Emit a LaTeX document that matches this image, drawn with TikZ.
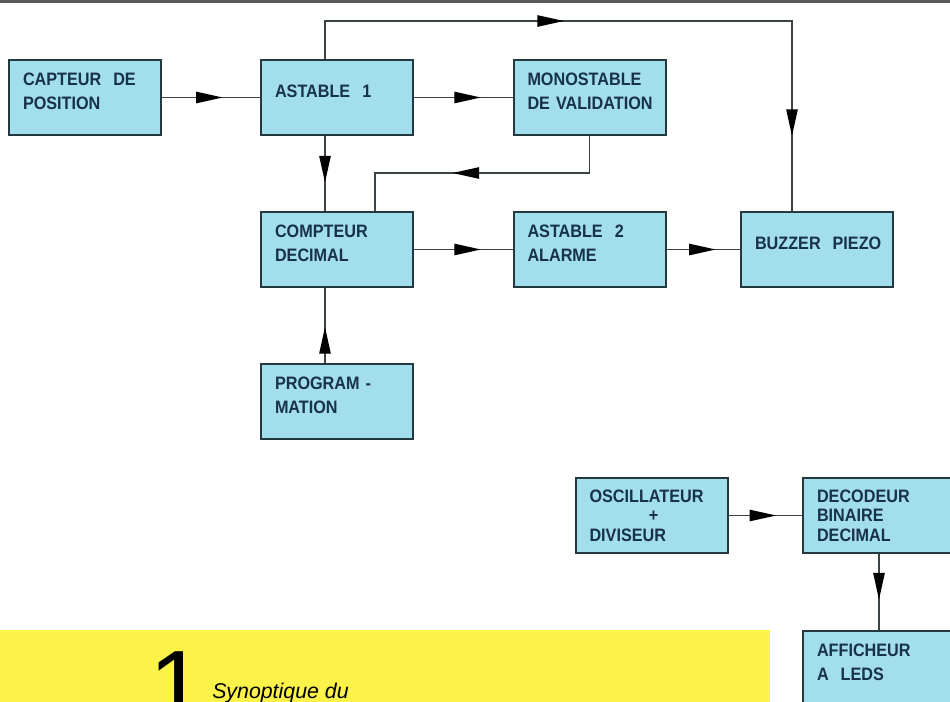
\documentclass[tikz,border=0pt]{standalone}
\usepackage{fontspec}
\setmainfont{Liberation Sans}
\newfontfamily\blokfont[FakeStretch=0.9]{Liberation Sans}
\usetikzlibrary{arrows.meta}
\usetikzlibrary{decorations.markings}
\hyphenpenalty=10000

\definecolor{blokfill}{HTML}{A3DEEC}
\definecolor{blokline}{HTML}{24393F}
\definecolor{bloktext}{HTML}{17324A}
\definecolor{wirecol}{HTML}{3A4446}
\definecolor{legend}{HTML}{FBF24A}
\definecolor{topband}{HTML}{5A5A5A}

\tikzset{
  blokbase/.style={draw=blokline, line width=1.5pt, fill=blokfill,
    minimum width=114pt, minimum height=56.25pt, inner xsep=10.5pt,
    text width=93pt, align=left, text=bloktext},
  blok/.style={blokbase,
    font=\blokfont\bfseries\fontsize{13.5}{18}\selectfont,
    execute at end node={\par\nointerlineskip\vskip 9pt\hbox{}}},
  blokthree/.style={blokbase,
    font=\blokfont\bfseries\fontsize{13.5}{14.6}\selectfont},
  wire/.style={draw=wirecol, line width=1.1pt},
  fl/.tip={Triangle[length=20pt, width=8.5pt]},
  flow/.style={wire, postaction={decorate, decoration={markings,
    mark=at position #1 with {\arrow[black]{fl}}}}},
  flow/.default=0.65,
}

\begin{document}
\begin{tikzpicture}[x=0.75pt, y=-0.75pt]
  \useasboundingbox (0,0) rectangle (950,702);
  \clip (0,0) rectangle (950,702);
  \fill[topband] (0,0) rectangle (950,3);

  % legende
  \fill[legend] (0,630) rectangle (770,702);
  \node[anchor=base west, inner sep=0, font=\fontsize{75}{75}\selectfont] (num) at (149,720) {1};
  \node[anchor=base west, inner sep=0, font=\itshape\fontsize{16}{19}\selectfont] (caption) at (212,698) {Synoptique du};

  % blocs
  \node[blok] (capteur) at (85,97.5) {CAPTEUR~~DE\\POSITION};
  \node[blok] (astable1) at (337,97.5) {ASTABLE~~1};
  \node[blok] (mono) at (589.5,97.5) {MONOSTABLE\\DE~VALIDATION};
  \node[blok] (compteur) at (337,249.5) {COMPTEUR\\DECIMAL};
  \node[blok] (astable2) at (589.5,249.5) {ASTABLE~~2\\ALARME};
  \node[blok] (buzzer) at (817,249.5) {BUZZER~~PIEZO};
  \node[blok] (prog) at (337,401.5) {PROGRAM -\\MATION};
  \node[blokthree] (osc) at (651.5,515.5) {OSCILLATEUR\\\hphantom{OSCILL}+\\DIVISEUR};
  \node[blokthree] (deco) at (879,515.5) {DECODEUR\\BINAIRE\\DECIMAL};
  \node[blok] (leds) at (879,668.5) {AFFICHEUR\\A~~LEDS};

  % liaisons
  \coordinate (up) at (325,21);
  \coordinate (over) at (792,21);
  \coordinate (back) at (375,173);
  \draw[flow=0.62] (capteur) -- (astable1);
  \draw[flow=0.68] (astable1) -- (mono);
  \draw[flow=0.68] (compteur) -- (astable2);
  \draw[flow=0.67] (astable2) -- (buzzer);
  \draw[flow] (osc) -- (deco);
  \draw[flow=0.62] (astable1.south -| up) -- (compteur.north -| up);
  \draw[flow=0.48] (prog.north -| up) -- (compteur.south -| up);
  \draw[flow=0.6] (deco) -- (leds);
  \draw[wire, postaction={decorate, decoration={markings,
      mark=at position 207.75pt with {\arrow[black]{fl}},
      mark=at position 465pt with {\arrow[black]{fl}}}}]
    (astable1.north -| up) -- (up) -- (over) -- (buzzer.north -| over);
  \draw[wire, postaction={decorate, decoration={markings,
      mark=at position 130.5pt with {\arrow[black]{fl}}}}]
    (mono.south) |- (back) -- (compteur.north -| back);
\end{tikzpicture}
\end{document}
